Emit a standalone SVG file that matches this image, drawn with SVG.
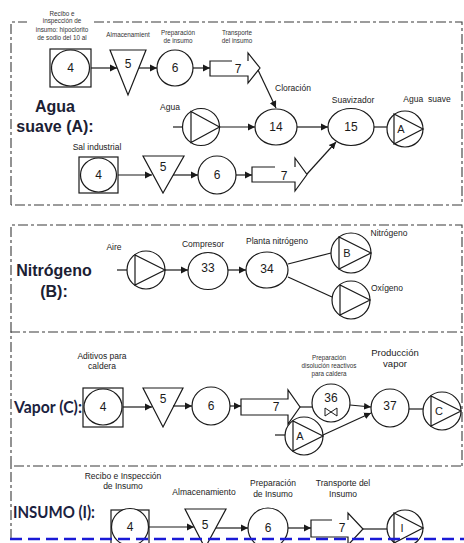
<svg xmlns="http://www.w3.org/2000/svg" width="464" height="543" viewBox="0 0 464 543">
  <style>
    .bg { fill: #ffffff; }
    .frame { fill: none; stroke: #3a3a3a; stroke-width: 1.1; stroke-dasharray: 10 3 3 3; }
    .shape { fill: #ffffff; stroke: #1a1a1a; stroke-width: 1.2; }
    .line { fill: none; stroke: #1a1a1a; stroke-width: 1.2; }
    .arrow { fill: none; stroke: #1a1a1a; stroke-width: 1.2; marker-end: url(#ah); }
    .num { font-family: "Liberation Sans", Arial, sans-serif; font-size: 12px; fill: #1a1a1a; text-anchor: middle; }
    .tiny { font-family: "Liberation Sans", Arial, sans-serif; font-size: 6.3px; fill: #333333; text-anchor: middle; }
    .lbl { font-family: "Liberation Sans", Arial, sans-serif; font-size: 8.5px; fill: #222222; text-anchor: middle; }
    .head { font-family: "Liberation Sans", Arial, sans-serif; font-size: 16px; font-weight: bold; fill: #1b2033; text-anchor: middle; }
    .head2 { font-family: Lato, "Liberation Sans", sans-serif; font-size: 17px; font-weight: bold; fill: #1b2240; }
    .blue { fill: none; stroke: #1a1ad6; stroke-width: 2.4; stroke-dasharray: 12 6; }
  </style>
  <defs>
    <marker id="ah" markerWidth="8" markerHeight="8" refX="7" refY="4" orient="auto" markerUnits="userSpaceOnUse">
      <path d="M0,0.6 L7,4 L0,7.4 z" fill="#1a1a1a"/>
    </marker>
  </defs>
  <rect class="bg" x="0" y="0" width="464" height="543"/>

  <!-- section frames -->
  <g id="frames">
    <path class="frame" d="M11,205 V22 H462 V205 H11"/>
    <rect x="27" y="17" width="67" height="8" fill="#ffffff"/>
    <path class="frame" d="M11,332 V225 H462 V332"/>
    <path class="frame" d="M11,466 V332 H462 V466"/>
    <path class="frame" d="M11,539 V466 H462"/>
  </g>

  <!-- section A: Agua suave -->
  <g id="heading-a">
    <text class="head" x="55" y="112">Agua</text>
    <text class="head" x="55" y="132">suave (A):</text>
  </g>
  <g id="a-recibo">
    <text class="tiny" x="62" y="15.5">Recibo e</text>
    <text class="tiny" x="62" y="23">inspección de</text>
    <text class="tiny" x="62" y="32">insumo: hipoclorito</text>
    <text class="tiny" x="62" y="40">de sodio del 10 al</text>
    <rect class="shape" x="50" y="49" width="41" height="38"/>
    <ellipse class="shape" cx="70.5" cy="68" rx="19" ry="18"/>
    <text class="num" x="70.5" y="72">4</text>
  </g>
  <g id="a-almacen">
    <text class="tiny" x="128" y="37">Almacenamient</text>
    <polygon class="shape" points="110,50 146,50 128,95"/>
    <text class="num" x="128" y="68">5</text>
  </g>
  <g id="a-prep">
    <text class="tiny" x="178" y="35">Preparación</text>
    <text class="tiny" x="178" y="42.5">de insumo</text>
    <ellipse class="shape" cx="175" cy="68" rx="18" ry="18"/>
    <text class="num" x="175" y="72">6</text>
  </g>
  <g id="a-transp">
    <text class="tiny" x="237" y="35">Transporte</text>
    <text class="tiny" x="237" y="42.5">del insumo</text>
    <path class="line" d="M232,61 H210 V76 H248 V83 L260,68 L248,53 V61"/>
    <text class="num" x="238" y="73">7</text>
  </g>
  <g id="a-cloracion">
    <text class="lbl" x="275" y="91" style="text-anchor:start">Cloración</text>
  </g>
  <g id="a-agua">
    <text class="lbl" x="170" y="110">Agua</text>
    <circle class="shape" cx="201" cy="127" r="18.5"/>
    <path class="line" d="M219.5,127 L191,111.5 V142.5 Z"/>
  </g>
  <g id="a-14">
    <ellipse class="shape" cx="276" cy="127" rx="21" ry="18"/>
    <text class="num" x="276" y="131">14</text>
  </g>
  <g id="a-15">
    <text class="lbl" x="353" y="103">Suavizador</text>
    <ellipse class="shape" cx="351" cy="127" rx="23" ry="18.5"/>
    <text class="num" x="351" y="131">15</text>
  </g>
  <g id="a-out">
    <text class="lbl" x="427" y="102" style="white-space:pre">Agua  suave</text>
    <circle class="shape" cx="405" cy="129" r="18"/>
    <path class="line" d="M423,129 L394,114 V144 Z"/>
    <text class="num" x="401" y="133" style="font-size:11px">A</text>
  </g>
  <g id="a-sal">
    <text class="lbl" x="97" y="150">Sal industrial</text>
    <rect class="shape" x="79" y="157" width="39" height="36"/>
    <ellipse class="shape" cx="98.5" cy="175" rx="18" ry="17"/>
    <text class="num" x="98.5" y="179">4</text>
  </g>
  <g id="a-almacen2">
    <polygon class="shape" points="143,156 184,156 163,193"/>
    <text class="num" x="163" y="171">5</text>
  </g>
  <g id="a-prep2">
    <circle class="shape" cx="217" cy="175" r="19"/>
    <text class="num" x="217" y="179">6</text>
  </g>
  <g id="a-transp2">
    <path class="line" d="M275,167 H252 V182 H295 V191 L307,174.5 L295,158 V167"/>
    <text class="num" x="284" y="180">7</text>
  </g>

  <!-- section B: Nitrógeno -->
  <g id="heading-b">
    <text class="head" x="54" y="276">Nitrógeno</text>
    <text class="head" x="54" y="297">(B):</text>
  </g>
  <g id="b-aire">
    <text class="lbl" x="114" y="250">Aire</text>
    <circle class="shape" cx="146" cy="270" r="19"/>
    <path class="line" d="M165,270 L135,255 V285 Z"/>
  </g>
  <g id="b-33">
    <text class="lbl" x="203" y="247">Compresor</text>
    <ellipse class="shape" cx="208" cy="271" rx="20" ry="18.5"/>
    <text class="num" x="208" y="272">33</text>
  </g>
  <g id="b-34">
    <text class="lbl" x="277" y="244">Planta nitrógeno</text>
    <ellipse class="shape" cx="267" cy="270" rx="21" ry="18"/>
    <text class="num" x="267" y="273">34</text>
  </g>
  <g id="b-nitro">
    <text class="lbl" x="389" y="236">Nitrógeno</text>
    <circle class="shape" cx="351" cy="253" r="20"/>
    <path class="line" d="M371,253 L339,237 V269 Z"/>
    <text class="num" x="347" y="257" style="font-size:11px">B</text>
  </g>
  <g id="b-oxi">
    <text class="lbl" x="387" y="291">Oxígeno</text>
    <circle class="shape" cx="351" cy="300" r="19"/>
    <path class="line" d="M370,300 L340,285 V315 Z"/>
  </g>

  <!-- section C: Vapor -->
  <g id="heading-c">
    <text class="head2" x="14" y="413" textLength="68" lengthAdjust="spacingAndGlyphs">Vapor (C):</text>
  </g>
  <g id="c-recibo">
    <text class="lbl" x="102" y="359">Aditivos para</text>
    <text class="lbl" x="102" y="369">caldera</text>
    <rect class="shape" x="83" y="388" width="40" height="39"/>
    <ellipse class="shape" cx="103" cy="407" rx="19" ry="18"/>
    <text class="num" x="103" y="411">4</text>
  </g>
  <g id="c-almacen">
    <polygon class="shape" points="143,388 183,388 163,427"/>
    <text class="num" x="163" y="403">5</text>
  </g>
  <g id="c-prep">
    <circle class="shape" cx="211" cy="406" r="19"/>
    <text class="num" x="211" y="410">6</text>
  </g>
  <g id="c-transp">
    <path class="line" d="M241,399 H288 V390 L300,407 L288,424 V415 H241 Z"/>
    <text class="num" x="276" y="411">7</text>
  </g>
  <g id="c-36">
    <text class="tiny" x="329" y="360">Preparación</text>
    <text class="tiny" x="329" y="368">disolución reactivos</text>
    <text class="tiny" x="329" y="376">para caldera</text>
    <circle class="shape" cx="331" cy="403" r="19"/>
    <text class="num" x="331" y="402">36</text>
    <path class="line" d="M325,408 L325,416 L337,408 L337,416 Z" style="stroke-width:1"/>
  </g>
  <g id="c-37">
    <text class="lbl" x="395" y="356" style="font-size:9.5px">Producción</text>
    <text class="lbl" x="395" y="367" style="font-size:9.5px">vapor</text>
    <circle class="shape" cx="390" cy="408" r="19"/>
    <text class="num" x="390" y="410">37</text>
  </g>
  <g id="c-out">
    <circle class="shape" cx="442" cy="411" r="19"/>
    <path class="line" d="M461,411 L431,396 V426 Z"/>
    <text class="num" x="439" y="415" style="font-size:11px">C</text>
  </g>
  <g id="c-agua">
    <circle class="shape" cx="304" cy="436" r="19"/>
    <path class="line" d="M323,436 L293,421 V451 Z"/>
    <text class="num" x="300" y="440" style="font-size:11px">A</text>
  </g>

  <!-- section I: Insumo -->
  <g id="heading-i">
    <text class="head2" x="13" y="518" textLength="82" lengthAdjust="spacingAndGlyphs">INSUMO (I):</text>
  </g>
  <g id="i-recibo">
    <text class="lbl" x="123" y="479">Recibo e Inspección</text>
    <text class="lbl" x="123" y="489">de Insumo</text>
    <rect class="shape" x="111" y="510" width="38" height="40"/>
    <circle class="shape" cx="130" cy="527" r="18.5"/>
    <text class="num" x="130" y="531">4</text>
  </g>
  <g id="i-almacen">
    <text class="lbl" x="204" y="495">Almacenamiento</text>
    <polygon class="shape" points="185,509 226,509 205,548"/>
    <text class="num" x="205" y="529">5</text>
  </g>
  <g id="i-prep">
    <text class="lbl" x="273" y="486">Preparación</text>
    <text class="lbl" x="273" y="497">de Insumo</text>
    <circle class="shape" cx="268" cy="528" r="20"/>
    <text class="num" x="268" y="532">6</text>
  </g>
  <g id="i-transp">
    <text class="lbl" x="343" y="486">Transporte del</text>
    <text class="lbl" x="343" y="497">Insumo</text>
    <path class="line" d="M332,520 H311 V537 H348 V545 L363,529 L348,513 V520"/>
    <text class="num" x="342" y="532">7</text>
  </g>
  <g id="i-out">
    <circle class="shape" cx="405" cy="528" r="18"/>
    <path class="line" d="M423,528 L394,513 V543 Z"/>
    <text class="num" x="402" y="532" style="font-size:11px">I</text>
  </g>

  <!-- connectors -->
  <g id="connectors">
    <path class="arrow" d="M91,68 H117"/>
    <path class="arrow" d="M139,68 H157"/>
    <path class="arrow" d="M193,68 H210"/>
    <path class="arrow" d="M258,70 L276,108"/>
    <path class="line" d="M173,127 H182.5"/>
    <path class="arrow" d="M219.5,127 H255"/>
    <path class="arrow" d="M297,127 H328"/>
    <path class="line" d="M374,127 H387"/>
    <path class="arrow" d="M118,175 H152"/>
    <path class="arrow" d="M173,175 H198"/>
    <path class="arrow" d="M236,175 H252"/>
    <path class="arrow" d="M307,174 L336,142"/>

    <path class="line" d="M117,270 H127"/>
    <path class="arrow" d="M165,270 H188"/>
    <path class="arrow" d="M228,270 H246"/>
    <path class="line" d="M288,264 L331,253"/>
    <path class="line" d="M288,277 L332,297"/>

    <path class="arrow" d="M123,407 H152"/>
    <path class="arrow" d="M173,406 H192"/>
    <path class="arrow" d="M230,406 H241"/>
    <path class="line" d="M300,407 H312"/>
    <path class="arrow" d="M350,405 L371,407"/>
    <path class="line" d="M409,409 H423"/>
    <path class="line" d="M275,435 H285"/>
    <path class="arrow" d="M323,435 L371,413"/>

    <path class="arrow" d="M149,527 H194"/>
    <path class="arrow" d="M216,528 H248"/>
    <path class="arrow" d="M288,528 H311"/>
    <path class="line" d="M363,529 H387"/>
  </g>

  <path class="blue" d="M10,539 H464"/>
</svg>
